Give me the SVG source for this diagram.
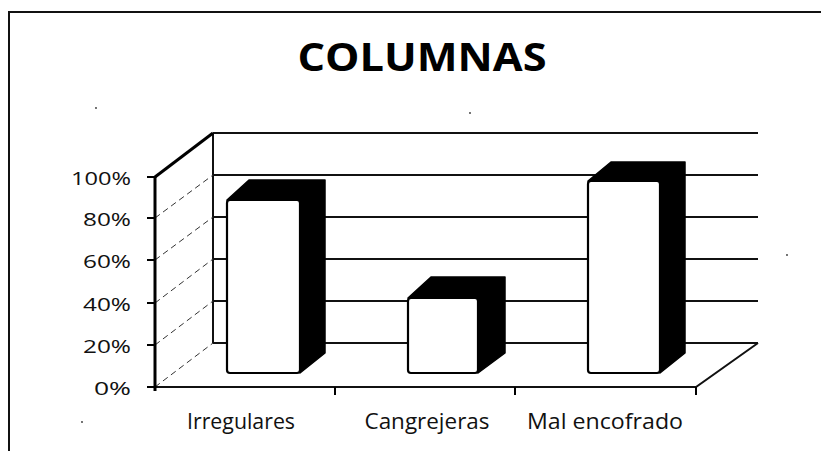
<svg xmlns="http://www.w3.org/2000/svg" width="821" height="451" viewBox="0 0 821 451">
<style>
.frame{fill:none;stroke:#111;stroke-width:2}
.grid{stroke:#111;stroke-width:2;fill:none}
.side{stroke:#333;stroke-width:1;stroke-dasharray:6 4;fill:none}
.axis{stroke:#000;stroke-width:3;fill:none}
.tick{stroke:#000;stroke-width:2}
.dark{fill:#000;stroke:#000;stroke-width:1.5;stroke-linejoin:round}
.face{fill:#fff;stroke:#000;stroke-width:2.2}
.lbl{font-family:"Open Sans","Liberation Sans",sans-serif;font-size:19px;fill:#111}
.cat{font-family:"Open Sans","Liberation Sans",sans-serif;font-size:22px;fill:#111;text-anchor:middle}
.title{font-family:"Open Sans","Liberation Sans",sans-serif;font-size:39px;font-weight:bold;fill:#000;text-anchor:middle}
</style>
<rect width="821" height="451" fill="#fff"/>
<g id="frame">
<path class="frame" d="M9,451 V12 H821"/>
</g>
<g id="title"><text class="title" x="422" y="71" textLength="249" lengthAdjust="spacingAndGlyphs">COLUMNAS</text></g>
<g id="walls">
<line class="grid" x1="213" y1="133" x2="758" y2="133"/>
<line class="grid" x1="213" y1="175" x2="758" y2="175"/>
<line class="grid" x1="213" y1="217" x2="758" y2="217"/>
<line class="grid" x1="213" y1="259" x2="758" y2="259"/>
<line class="grid" x1="213" y1="301" x2="758" y2="301"/>
<line class="grid" x1="213" y1="343" x2="758" y2="343"/>
<line class="grid" x1="213" y1="133" x2="213" y2="343"/>
<line class="side" x1="155" y1="218" x2="213" y2="175"/>
<line class="side" x1="155" y1="260" x2="213" y2="217"/>
<line class="side" x1="155" y1="303" x2="213" y2="259"/>
<line class="side" x1="155" y1="345" x2="213" y2="301"/>
<line class="side" x1="155" y1="387" x2="213" y2="343"/>
<path class="axis" d="M155,177 L213,133"/>
<path class="grid" d="M155,387 L696,387 L758,343"/>
</g>
<g id="axes">
<line class="axis" x1="155" y1="176" x2="155" y2="391"/>
<line class="tick" x1="147" y1="177" x2="155" y2="177"/>
<line class="tick" x1="147" y1="218" x2="155" y2="218"/>
<line class="tick" x1="147" y1="260" x2="155" y2="260"/>
<line class="tick" x1="147" y1="303" x2="155" y2="303"/>
<line class="tick" x1="147" y1="345" x2="155" y2="345"/>
<line class="tick" x1="147" y1="387" x2="155" y2="387"/>
<line class="tick" x1="335" y1="387" x2="335" y2="395"/>
<line class="tick" x1="515" y1="387" x2="515" y2="395"/>
<line class="tick" x1="696" y1="387" x2="696" y2="395"/>
<text class="lbl" x="131" y="185" text-anchor="end" textLength="60" lengthAdjust="spacingAndGlyphs">100%</text>
<text class="lbl" x="131" y="226" text-anchor="end" textLength="48" lengthAdjust="spacingAndGlyphs">80%</text>
<text class="lbl" x="131" y="268" text-anchor="end" textLength="48" lengthAdjust="spacingAndGlyphs">60%</text>
<text class="lbl" x="131" y="311" text-anchor="end" textLength="48" lengthAdjust="spacingAndGlyphs">40%</text>
<text class="lbl" x="131" y="353" text-anchor="end" textLength="48" lengthAdjust="spacingAndGlyphs">20%</text>
<text class="lbl" x="131" y="395" text-anchor="end" textLength="37" lengthAdjust="spacingAndGlyphs">0%</text>
<text class="cat" x="241" y="429" textLength="108" lengthAdjust="spacingAndGlyphs">Irregulares</text>
<text class="cat" x="427" y="429" textLength="125" lengthAdjust="spacingAndGlyphs">Cangrejeras</text>
<text class="cat" x="605" y="429" textLength="156" lengthAdjust="spacingAndGlyphs">Mal encofrado</text>
</g>
<g id="bar-irregulares">
<path class="dark" d="M227,200 L249,180 L325,180 L325,353 L300,373 Z"/>
<rect class="face" x="227" y="200" width="73" height="173" rx="3"/>
</g>
<g id="bar-cangrejeras">
<path class="dark" d="M408,298 L431,277 L505,277 L505,353 L478,373 Z"/>
<rect class="face" x="408" y="298" width="70" height="75" rx="3"/>
</g>
<g id="bar-mal-encofrado">
<path class="dark" d="M588,181 L611,162 L685,162 L685,353 L660,373 Z"/>
<rect class="face" x="588" y="181" width="72" height="192" rx="3"/>
</g>
<g id="specks" fill="#333">
<circle cx="96" cy="108" r="0.9"/>
<circle cx="470" cy="113" r="0.9"/>
<circle cx="787" cy="255" r="0.9"/>
<circle cx="82" cy="422" r="0.9"/>
</g>
</svg>
